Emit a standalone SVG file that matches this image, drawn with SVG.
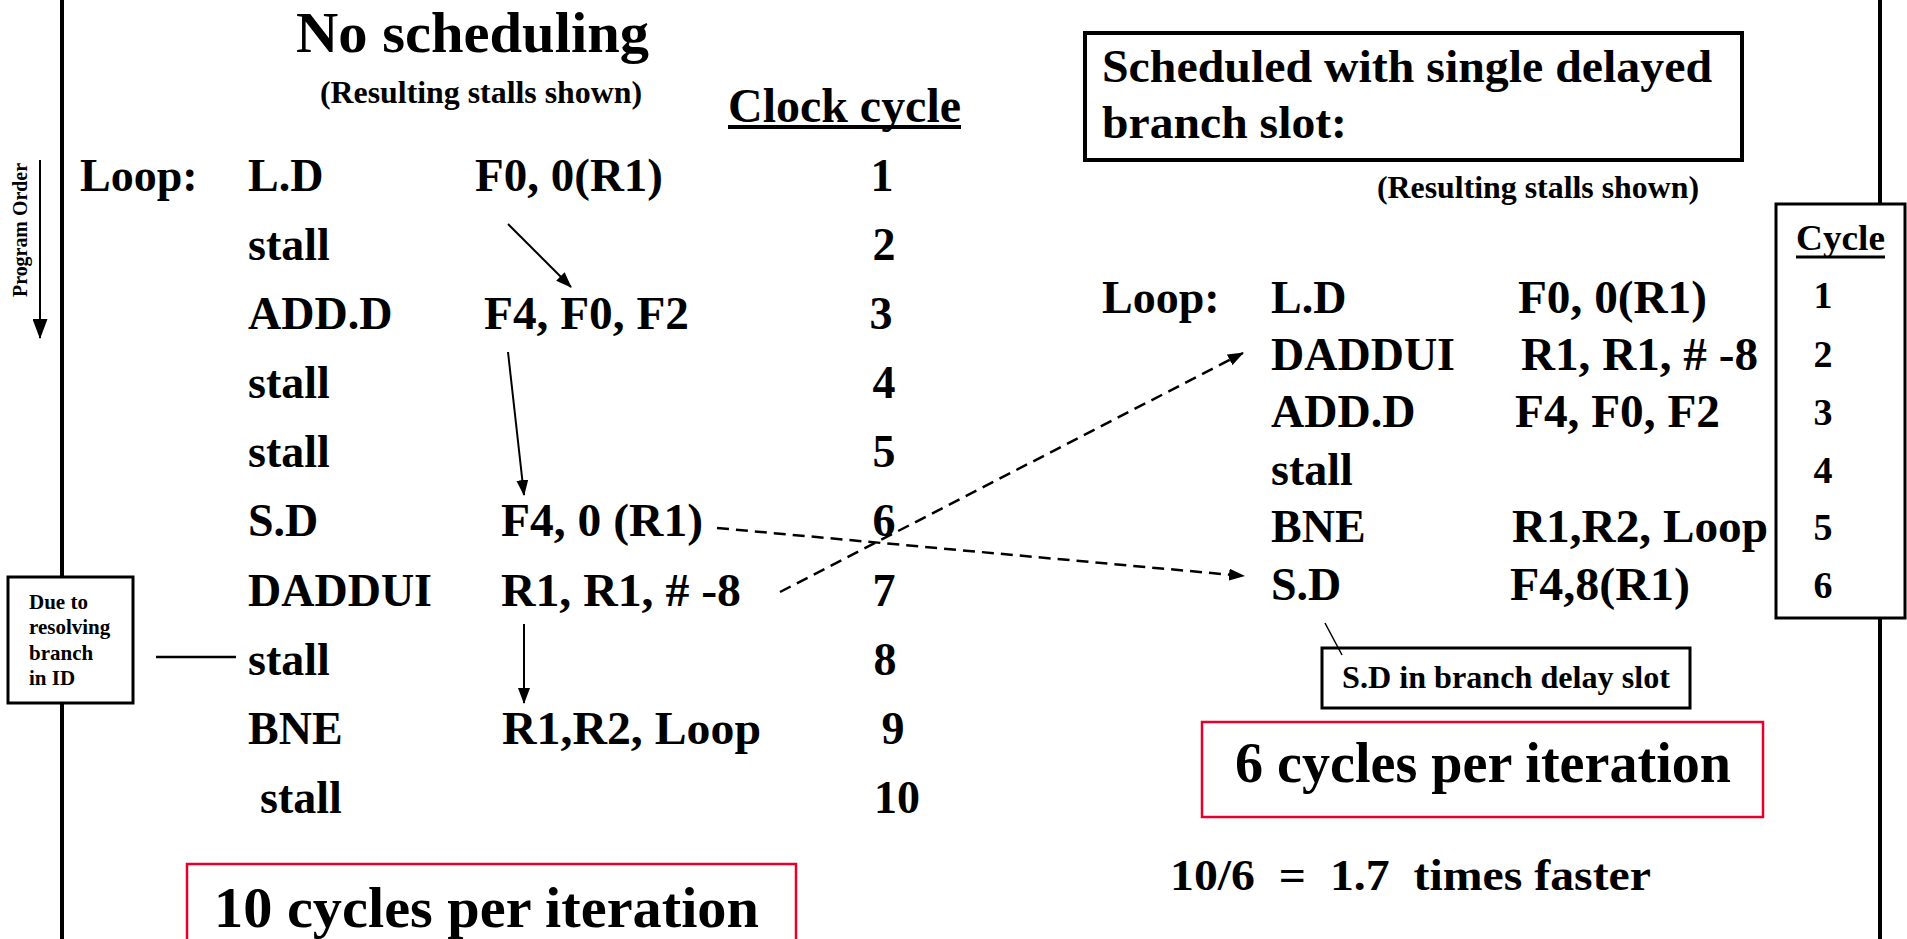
<svg xmlns="http://www.w3.org/2000/svg" width="1907" height="939" viewBox="0 0 1907 939">
<style>
text{font-family:"Liberation Serif","Times New Roman",serif;font-weight:bold;fill:#000}
.r{font-size:46px}
.n{font-size:46px;text-anchor:middle}
.c{font-size:38px;text-anchor:middle}
.s{font-size:31px}
.box{fill:#fff;stroke:#000;stroke-width:3}
.red{fill:none;stroke:#e8002c;stroke-width:2.5}
.ln{stroke:#000;stroke-width:2;fill:none}
.dash{stroke:#000;stroke-width:2.5;fill:none;stroke-dasharray:12 7}
</style>
<defs>
<marker id="ah" viewBox="0 0 16 12" refX="15" refY="6" markerWidth="16" markerHeight="12" markerUnits="userSpaceOnUse" orient="auto"><path d="M0,0 L16,6 L0,12 z" fill="#000"/></marker>
<marker id="ah2" viewBox="0 0 20 15" refX="19" refY="7.5" markerWidth="20" markerHeight="15" markerUnits="userSpaceOnUse" orient="auto"><path d="M0,0 L20,7.5 L0,15 z" fill="#000"/></marker>
</defs>
<rect width="1907" height="939" fill="#fff"/>

<g id="frame">
<line x1="62" y1="0" x2="62" y2="939" stroke="#000" stroke-width="4"/>
<line x1="1880" y1="0" x2="1880" y2="939" stroke="#000" stroke-width="4"/>
</g>

<g id="program-order">
<text transform="translate(27,297) rotate(-90)" font-size="20" textLength="134" lengthAdjust="spacingAndGlyphs">Program Order</text>
<line x1="40" y1="160" x2="40" y2="338" class="ln" marker-end="url(#ah2)"/>
</g>

<g id="title-left">
<text x="296" y="52" font-size="57" textLength="353" lengthAdjust="spacingAndGlyphs">No scheduling</text>
<text x="320" y="103" class="s" textLength="322" lengthAdjust="spacingAndGlyphs">(Resulting stalls shown)</text>
</g>

<g id="clock-cycle-header">
<text x="728" y="122" font-size="48" textLength="233" lengthAdjust="spacingAndGlyphs">Clock cycle</text>
<line x1="728" y1="127" x2="961" y2="127" stroke="#000" stroke-width="4"/>
</g>

<g id="left-code">
<text x="80" y="191" class="r">Loop:</text>
<text x="248" y="191" class="r">L.D</text>
<text x="475" y="191" class="r" textLength="188" lengthAdjust="spacingAndGlyphs">F0, 0(R1)</text>
<text x="882" y="191" class="n">1</text>
<text x="248" y="260" class="r">stall</text>
<text x="884" y="260" class="n">2</text>
<text x="248" y="329" class="r">ADD.D</text>
<text x="484" y="329" class="r" textLength="205" lengthAdjust="spacingAndGlyphs">F4, F0, F2</text>
<text x="881" y="329" class="n">3</text>
<text x="248" y="398" class="r">stall</text>
<text x="884" y="398" class="n">4</text>
<text x="248" y="467" class="r">stall</text>
<text x="884" y="467" class="n">5</text>
<text x="248" y="536" class="r">S.D</text>
<text x="501" y="536" class="r" textLength="202" lengthAdjust="spacingAndGlyphs">F4, 0 (R1)</text>
<text x="884" y="536" class="n">6</text>
<text x="248" y="606" class="r">DADDUI</text>
<text x="501" y="606" class="r" textLength="240" lengthAdjust="spacingAndGlyphs">R1, R1, # -8</text>
<text x="884" y="606" class="n">7</text>
<text x="248" y="675" class="r">stall</text>
<text x="885" y="675" class="n">8</text>
<text x="248" y="744" class="r">BNE</text>
<text x="502" y="744" class="r" textLength="259" lengthAdjust="spacingAndGlyphs">R1,R2, Loop</text>
<text x="893" y="744" class="n">9</text>
<text x="260" y="813" class="r">stall</text>
<text x="897" y="813" class="n">10</text>
</g>

<g id="note-branch">
<rect x="8" y="577" width="125" height="126" class="box"/>
<text x="29" y="609" font-size="21">Due to</text>
<text x="29" y="634" font-size="21">resolving</text>
<text x="29" y="660" font-size="21">branch</text>
<text x="29" y="685" font-size="21">in ID</text>
</g>

<g id="left-result">
<rect x="187" y="864" width="609" height="100" class="red"/>
<text x="214" y="927" font-size="57" textLength="545" lengthAdjust="spacingAndGlyphs">10 cycles per iteration</text>
</g>

<g id="title-right">
<rect x="1085" y="33" width="657" height="127" fill="none" stroke="#000" stroke-width="4"/>
<text x="1102" y="82" font-size="46" textLength="610" lengthAdjust="spacingAndGlyphs">Scheduled with single delayed</text>
<text x="1102" y="138" font-size="46" textLength="245" lengthAdjust="spacingAndGlyphs">branch slot:</text>
<text x="1377" y="198" class="s" textLength="322" lengthAdjust="spacingAndGlyphs">(Resulting stalls shown)</text>
</g>

<g id="right-code">
<text x="1102" y="313" class="r">Loop:</text>
<text x="1271" y="313" class="r">L.D</text>
<text x="1518" y="313" class="r" textLength="189" lengthAdjust="spacingAndGlyphs">F0, 0(R1)</text>
<text x="1271" y="370" class="r">DADDUI</text>
<text x="1521" y="370" class="r" textLength="237" lengthAdjust="spacingAndGlyphs">R1, R1, # -8</text>
<text x="1271" y="427" class="r">ADD.D</text>
<text x="1515" y="427" class="r" textLength="205" lengthAdjust="spacingAndGlyphs">F4, F0, F2</text>
<text x="1271" y="485" class="r">stall</text>
<text x="1271" y="542" class="r">BNE</text>
<text x="1512" y="542" class="r" textLength="256" lengthAdjust="spacingAndGlyphs">R1,R2, Loop</text>
<text x="1271" y="600" class="r">S.D</text>
<text x="1510" y="600" class="r" textLength="180" lengthAdjust="spacingAndGlyphs">F4,8(R1)</text>
</g>

<g id="cycle-column">
<rect x="1776" y="204" width="129" height="414" class="box"/>
<text x="1796" y="250" font-size="35" textLength="89" lengthAdjust="spacingAndGlyphs">Cycle</text>
<line x1="1796" y1="257" x2="1885" y2="257" stroke="#000" stroke-width="3"/>
<text x="1823" y="308" class="c">1</text>
<text x="1823" y="367" class="c">2</text>
<text x="1823" y="425" class="c">3</text>
<text x="1823" y="483" class="c">4</text>
<text x="1823" y="540" class="c">5</text>
<text x="1823" y="598" class="c">6</text>
</g>

<g id="note-delay-slot">
<rect x="1322" y="648" width="368" height="60" class="box"/>
<text x="1342" y="688" class="s" textLength="328" lengthAdjust="spacingAndGlyphs">S.D in branch delay slot</text>
</g>

<g id="right-result">
<rect x="1202" y="722" width="561" height="95" class="red"/>
<text x="1235" y="782" font-size="56" textLength="496" lengthAdjust="spacingAndGlyphs">6 cycles per iteration</text>
<text x="1170" y="890" font-size="45" textLength="481" lengthAdjust="spacingAndGlyphs" xml:space="preserve">10/6  =  1.7  times faster</text>
</g>

<g id="connectors">
<line x1="508" y1="224" x2="571" y2="287" class="ln" marker-end="url(#ah)"/>
<line x1="508" y1="352" x2="524" y2="495" class="ln" marker-end="url(#ah)"/>
<line x1="524" y1="624" x2="524" y2="703" class="ln" marker-end="url(#ah)"/>
<line x1="717" y1="528" x2="1244" y2="576" class="dash" marker-end="url(#ah)"/>
<line x1="780" y1="592" x2="1243" y2="353" class="dash" marker-end="url(#ah)"/>
<line x1="156" y1="657" x2="236" y2="657" stroke="#000" stroke-width="2.5"/>
<line x1="1325" y1="623" x2="1342" y2="655" stroke="#000" stroke-width="1.5"/>
</g>
</svg>
